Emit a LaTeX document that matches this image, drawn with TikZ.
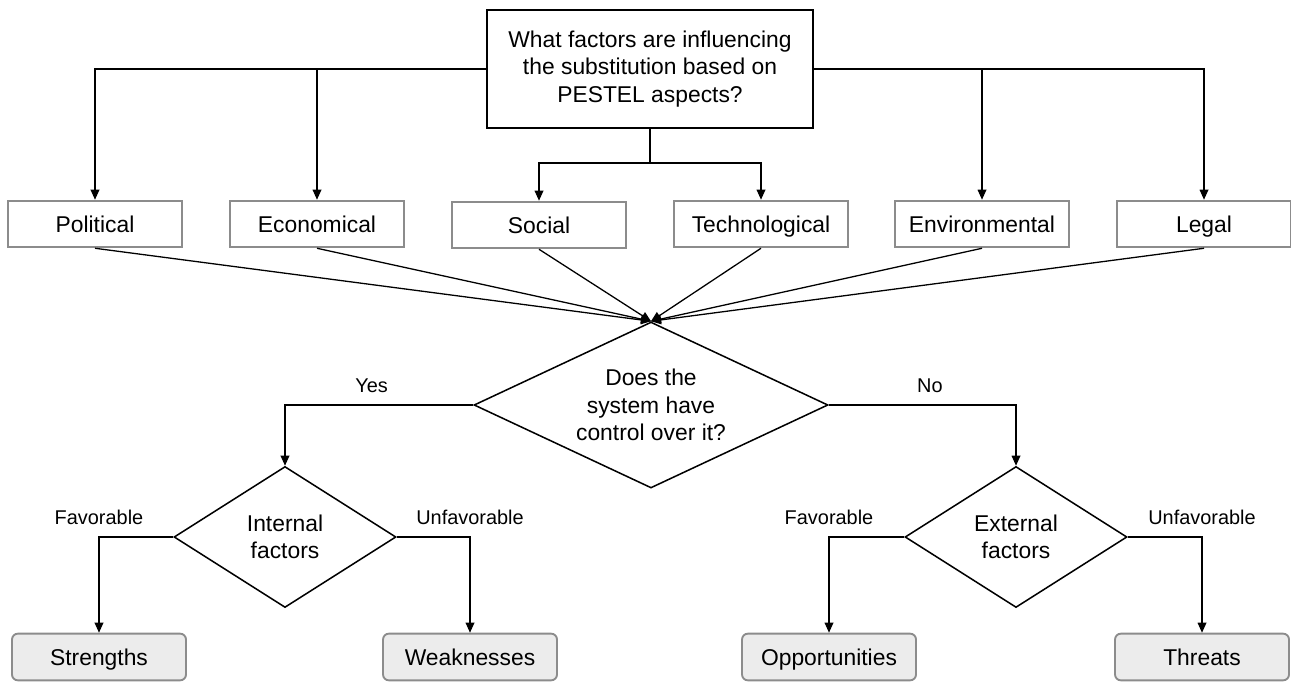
\documentclass[tikz,border=0pt]{standalone}
\usepackage{fontspec}
\setmainfont{Liberation Sans}
\usetikzlibrary{arrows.meta, shapes.geometric}

\definecolor{boxgray}{RGB}{140,140,140}
\definecolor{boxfill}{RGB}{236,236,236}

\begin{document}
\begin{tikzpicture}[x=0.03cm, y=-0.03cm,
    every node/.style={font=\fontsize{19.5}{23.5}\selectfont},
    flow/.style={-{Triangle[length=3mm, width=2.6mm]}, line width=1.1pt},
    factor/.style={draw=boxgray, line width=1.6pt, minimum width=5.22cm, minimum height=1.40cm,
        inner sep=0pt, text height=16pt, text depth=2pt},
    outcome/.style={factor, fill=boxfill, rounded corners=5pt},
    decision/.style={diamond, draw, line width=1.3pt, inner sep=0pt, align=center},
    branch/.style={font=\fontsize{17}{20}\selectfont, anchor=base, yshift=10.5pt}]

    % fixed page size (reference picture is 1291 x 682)
    \useasboundingbox (0,0) rectangle (1291,682);

    % ==========================================
    % Top: guiding question
    % ==========================================
    \node[draw, line width=2.1pt, minimum width=9.78cm, minimum height=3.54cm, align=center]
        (question) at (650,69) {What factors are influencing\\the substitution based on\\PESTEL aspects?};

    % ==========================================
    % PESTEL aspects
    % ==========================================
    \node[factor] (political)     at (95,224)   {Political};
    \node[factor] (economical)    at (317,224)  {Economical};
    \node[factor] (social)        at (539,225)  {Social};
    \node[factor] (technological) at (761,224)  {Technological};
    \node[factor] (environmental) at (982,224)  {Environmental};
    \node[factor] (legal)         at (1204,224) {Legal};

    % Question -> aspects
    \draw[flow] (question.west) -| (political.north);
    \draw[flow] (question.west) -| (economical.north);
    \draw[flow] (question.east) -| (environmental.north);
    \draw[flow] (question.east) -| (legal.north);
    \coordinate (split) at (650,163);
    \draw[line width=1.1pt] (question.south) -- (split);
    \draw[flow] (split) -| (social.north);
    \draw[flow] (split) -| (technological.north);

    % ==========================================
    % Control decision
    % ==========================================
    \node[decision, minimum width=10.62cm, minimum height=4.98cm, shape aspect=2.13]
        (control) at (651,405) {Does the\\system have\\control over it?};

    % All aspects feed into the decision
    \foreach \f in {political, economical, social, technological, environmental, legal}
        \draw[flow] (\f.south) -- (control.north);

    % ==========================================
    % Internal / External factors
    % ==========================================
    \node[decision, minimum width=6.66cm, minimum height=4.23cm, shape aspect=1.57]
        (internal) at (285,537) {Internal\\factors};
    \node[decision, minimum width=6.66cm, minimum height=4.23cm, shape aspect=1.57]
        (external) at (1016,537) {External\\factors};

    \draw[flow] (control.west) -| node[branch, pos=0.27] {Yes} (internal.north);
    \draw[flow] (control.east) -| node[branch, pos=0.27] {No} (external.north);

    % ==========================================
    % SWOT outcomes
    % ==========================================
    \node[outcome] (strengths)     at (99,657)   {Strengths};
    \node[outcome] (weaknesses)    at (470,657)  {Weaknesses};
    \node[outcome] (opportunities) at (829,657)  {Opportunities};
    \node[outcome] (threats)       at (1202,657) {Threats};

    \draw[flow] (internal.west) -| node[branch, pos=0.5] {Favorable} (strengths.north);
    \draw[flow] (internal.east) -| node[branch, pos=0.5] {Unfavorable} (weaknesses.north);
    \draw[flow] (external.west) -| node[branch, pos=0.5] {Favorable} (opportunities.north);
    \draw[flow] (external.east) -| node[branch, pos=0.5] {Unfavorable} (threats.north);
\end{tikzpicture}
\end{document}
